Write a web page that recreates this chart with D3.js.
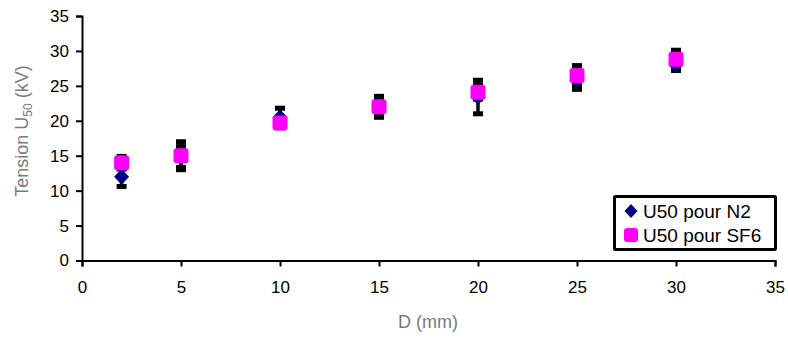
<!DOCTYPE html>
<html><head><meta charset="utf-8">
<script src="https://cdn.jsdelivr.net/npm/d3@7"></script>
<style>body{margin:0;background:#fff}svg{display:block}text{font-family:"Liberation Sans",Arial,sans-serif}</style>
</head><body>
<svg id="c" width="788" height="338"></svg>
<script>
const distances = [2, 5, 10, 15, 20, 25, 30];
const n2Values = [12.0, 14.8, 20.5, 22.2, 23.4, 25.8, 28.0];
const n2Errors = [1.4, 1.5, 1.3, 1.0, 2.4, 1.3, 0.8];
const sf6Values = [14.0, 15.0, 19.7, 22.0, 24.1, 26.5, 28.8];
const sf6Errors = [0.9, 2.0, 0.7, 1.5, 1.0, 1.4, 1.3];
const xTicks = [0, 5, 10, 15, 20, 25, 30, 35];
const yTicks = [0, 5, 10, 15, 20, 25, 30, 35];
const seriesNames = ["U50 pour N2", "U50 pour SF6"];

const svg = d3.select("#c");
const x = d3.scaleLinear().domain([0, 35]).range([82, 775]);
const y = d3.scaleLinear().domain([0, 35]).range([260.5, 16]);

const xAxis = svg.append("g").attr("transform", "translate(0,260.5)")
  .call(d3.axisBottom(x).tickValues(xTicks).tickSize(6).tickPadding(14));
const yAxis = svg.append("g").attr("transform", "translate(82,0)")
  .call(d3.axisLeft(y).tickValues(yTicks).tickSize(6).tickPadding(7));
[xAxis, yAxis].forEach(a => {
  a.selectAll("path").attr("stroke", "#000").attr("stroke-width", 2);
  a.selectAll("line").attr("stroke", "#000").attr("stroke-width", 2);
  a.selectAll("text").attr("font-size", 17).attr("fill", "#000")
   .attr("font-family", "Liberation Sans, Arial, sans-serif");
});

const n2 = distances.map((d, i) => ({x: d, v: n2Values[i], e: n2Errors[i]}));
const sf6 = distances.map((d, i) => ({x: d, v: sf6Values[i], e: sf6Errors[i]}));

function errBars(data) {
  const g = svg.append("g");
  data.forEach(p => {
    const cx = x(p.x), t = y(p.v + p.e), b = y(p.v - p.e);
    g.append("line").attr("x1", cx).attr("x2", cx).attr("y1", t).attr("y2", b)
      .attr("stroke", "#000").attr("stroke-width", 3.5);
    [t, b].forEach(yy => g.append("rect").attr("x", cx - 5).attr("y", yy - 2.5)
      .attr("width", 10).attr("height", 5).attr("fill", "#000"));
  });
}
errBars(n2);
errBars(sf6);

const diamond = "M0,-8L7.5,0L0,8L-7.5,0Z";
svg.append("g").selectAll("path").data(n2).join("path")
  .attr("d", diamond).attr("fill", "#000080")
  .attr("transform", d => `translate(${x(d.x)},${y(d.v)})`);
svg.append("g").selectAll("rect").data(sf6).join("rect")
  .attr("x", d => x(d.x) - 7.5).attr("y", d => y(d.v) - 7.5)
  .attr("width", 15).attr("height", 15).attr("rx", 3).attr("fill", "#ff00ff");

// Legend
const lg = svg.append("g");
lg.append("rect").attr("x", 614.5).attr("y", 196.5).attr("width", 161).attr("height", 53)
  .attr("fill", "#fff").attr("stroke", "#000").attr("stroke-width", 3).attr("rx", 1);
lg.append("path").attr("d", "M0,-7L6.5,0L0,7L-6.5,0Z").attr("fill", "#000080").attr("transform", "translate(631,211)");
lg.append("rect").attr("x", 624).attr("y", 228).attr("width", 14).attr("height", 14).attr("rx", 3).attr("fill", "#ff00ff");
lg.append("text").attr("x", 643).attr("y", 218).attr("font-size", 19).text(seriesNames[0]);
lg.append("text").attr("x", 643).attr("y", 242).attr("font-size", 19).text(seriesNames[1]);

// Axis titles
svg.append("text").attr("x", 428).attr("y", 328).attr("text-anchor", "middle")
  .attr("font-size", 18).attr("fill", "#7a7a7a").text("D (mm)");
const yt = svg.append("text").attr("transform", "translate(28,131) rotate(-90)")
  .attr("text-anchor", "middle").attr("font-size", 18).attr("fill", "#7a7a7a");
yt.append("tspan").text("Tension U");
yt.append("tspan").attr("font-size", 12).attr("dy", 4).text("50");
yt.append("tspan").attr("dy", -4).text(" (kV)");
</script>
</body></html>
